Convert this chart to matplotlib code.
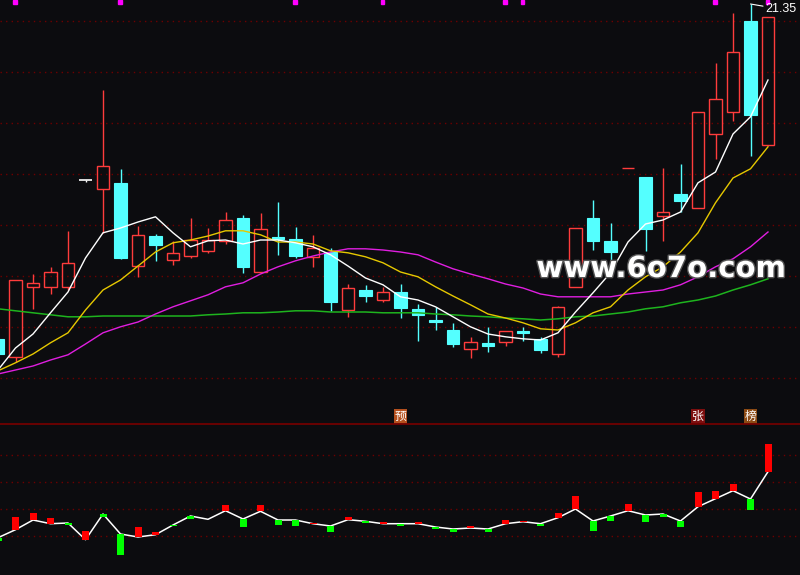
import matplotlib
matplotlib.use("Agg")
import matplotlib.pyplot as plt
import matplotlib.patheffects as pe
import matplotlib.transforms as mtransforms
from matplotlib.lines import Line2D
from matplotlib.patches import Rectangle
import numpy as np

# daily candles (price)
opens = [12.98, 12.53, 14.28, 14.28, 14.28, 16.94, 16.73, 16.88, 14.80, 15.55,
         14.95, 15.05, 15.18, 15.43, 16.00, 14.65, 15.53, 15.48, 15.03, 15.15,
         13.70, 14.20, 13.95, 14.15, 13.73, 13.45, 13.20, 12.73, 12.88, 12.90,
         13.18, 12.98, 12.60, 14.28, 16.00, 15.43, 17.24, 17.03, 16.05, 16.60,
         16.25, 18.10, 18.65, 20.93, 17.83]
highs = [12.98, 14.45, 14.60, 14.78, 15.68, 16.94, 19.20, 17.23, 15.80, 15.60,
         15.43, 16.00, 15.75, 16.15, 16.08, 16.13, 16.40, 15.78, 15.58, 15.25,
         14.35, 14.33, 14.28, 14.35, 13.85, 13.78, 13.38, 13.03, 13.28, 13.18,
         13.28, 13.03, 13.80, 15.75, 16.45, 15.88, 17.25, 17.03, 17.25, 17.35,
         18.65, 19.88, 21.13, 21.35, 21.03]
lows = [12.60, 12.40, 13.73, 14.10, 14.20, 16.91, 15.63, 14.98, 14.53, 14.93,
        14.83, 15.00, 15.13, 15.35, 14.63, 14.65, 15.08, 15.00, 14.78, 13.68,
        13.53, 13.90, 13.90, 13.50, 12.93, 13.20, 12.78, 12.50, 12.65, 12.80,
        12.93, 12.63, 12.53, 14.28, 15.20, 14.90, 17.24, 15.18, 15.43, 16.15,
        16.25, 17.48, 18.43, 17.55, 17.83]
closes = [12.60, 14.45, 14.38, 14.65, 14.88, 16.94, 17.30, 15.00, 15.58, 15.33,
          15.13, 15.45, 15.45, 15.95, 14.78, 15.73, 15.48, 15.05, 15.25, 13.90,
          14.25, 14.05, 14.15, 13.75, 13.58, 13.40, 12.85, 12.90, 12.80, 13.18,
          13.13, 12.70, 13.78, 15.75, 15.43, 15.15, 17.25, 15.73, 16.15, 16.43,
          18.65, 18.98, 20.15, 18.58, 21.03]

# moving averages
ma5 = [12.20, 12.75, 13.10, 13.63, 14.15, 15.00, 15.63, 15.75, 15.90, 16.03,
       15.63, 15.28, 15.43, 15.45, 15.35, 15.45, 15.45, 15.38, 15.28, 15.08,
       14.80, 14.50, 14.33, 14.03, 13.95, 13.78, 13.53, 13.28, 13.10, 13.03,
       12.98, 12.95, 13.13, 13.65, 14.13, 14.63, 15.40, 15.85, 15.95, 16.15,
       16.88, 17.15, 18.10, 18.53, 19.45]
ma10 = [12.18, 12.38, 12.60, 12.88, 13.13, 13.70, 14.20, 14.45, 14.80, 15.15,
        15.38, 15.45, 15.55, 15.68, 15.68, 15.58, 15.40, 15.40, 15.35, 15.18,
        15.13, 15.03, 14.88, 14.65, 14.53, 14.28, 14.05, 13.83, 13.60, 13.50,
        13.38, 13.23, 13.20, 13.38, 13.63, 13.78, 14.20, 14.53, 14.78, 15.15,
        15.63, 16.38, 17.00, 17.23, 17.78]
ma20 = [12.10, 12.20, 12.30, 12.45, 12.58, 12.85, 13.13, 13.28, 13.40, 13.60,
        13.78, 13.93, 14.08, 14.28, 14.38, 14.60, 14.78, 14.93, 15.05, 15.15,
        15.23, 15.23, 15.20, 15.15, 15.08, 14.90, 14.73, 14.60, 14.48, 14.35,
        14.25, 14.10, 14.03, 14.03, 14.03, 14.03, 14.10, 14.15, 14.20, 14.33,
        14.53, 14.78, 14.98, 15.28, 15.65]
ma60 = [13.73, 13.68, 13.63, 13.58, 13.53, 13.53, 13.55, 13.55, 13.55, 13.55,
        13.55, 13.55, 13.58, 13.60, 13.63, 13.63, 13.65, 13.68, 13.68, 13.65,
        13.65, 13.65, 13.63, 13.63, 13.63, 13.60, 13.58, 13.55, 13.53, 13.50,
        13.48, 13.45, 13.48, 13.53, 13.55, 13.60, 13.65, 13.73, 13.78, 13.88,
        13.95, 14.05, 14.20, 14.33, 14.48]

# lower indicator: smoothed line and raw value
ind_line = [3.73, 4.53, 5.50, 5.13, 5.20, 3.53, 6.10, 4.10, 3.80, 4.03,
            5.00, 5.90, 5.57, 6.43, 5.60, 6.37, 5.50, 5.50, 5.13, 4.90,
            5.53, 5.37, 5.13, 5.13, 5.13, 4.80, 4.60, 4.70, 4.60, 5.13,
            5.33, 5.13, 5.73, 6.60, 5.40, 5.90, 6.43, 6.00, 6.10, 5.40,
            6.83, 7.63, 8.43, 7.60, 10.33]
ind_value = [3.40, 5.80, 6.20, 5.70, 5.00, 4.40, 5.80, 2.03, 4.80, 4.30,
             4.90, 5.60, 5.57, 7.00, 4.80, 7.00, 5.03, 4.93, 5.20, 4.33,
             5.80, 5.23, 5.30, 4.93, 5.30, 4.60, 4.30, 4.90, 4.30, 5.50,
             5.40, 4.93, 6.20, 7.90, 4.43, 5.43, 7.10, 5.33, 5.83, 4.83,
             8.30, 8.40, 9.10, 6.53, 13.10]

mark_days = [1, 7, 17, 22, 29, 30, 41, 44]
tag_days = [23, 40, 43]
tag_text = ["预", "张", "榜"]
tag_colors = ["#b4501e", "#7d0f0f", "#8c4a14"]

BG = "#0c0c0f"
RED = "#ff3c3c"
CYAN = "#54ffff"
GRID = "#6e0000"

fig = plt.figure(figsize=(8, 5.75), dpi=100, facecolor=BG)
ax = fig.add_axes([0, 151 / 575, 1, 424 / 575], facecolor=BG)
ax2 = fig.add_axes([0, 0, 1, 151 / 575], facecolor=BG)

x = np.arange(len(opens))
W = 0.7

# candles
for i, (o, h, l, c) in enumerate(zip(opens, highs, lows, closes)):
    if c > o:
        ax.vlines(i, c, h, color=RED, lw=1, zorder=2)
        ax.vlines(i, l, o, color=RED, lw=1, zorder=2)
        ax.add_patch(Rectangle((i - W / 2, o), W, c - o, fill=False,
                               edgecolor=RED, lw=1, zorder=3))
    elif c < o:
        ax.vlines(i, l, h, color=CYAN, lw=1, zorder=2)
        ax.add_patch(Rectangle((i - W / 2, c), W, o - c, facecolor=CYAN,
                               edgecolor=CYAN, lw=0.8, zorder=3))
    else:
        ax.vlines(i, l, h, color="white", lw=1, zorder=2)
        ax.hlines(o, i - W / 2, i + W / 2, color="white", lw=1.2, zorder=3)

# moving averages
ax.plot(x, ma60, color="#1eb41e", lw=1.1, zorder=4)
ax.plot(x, ma20, color="#e01ee0", lw=1.0, zorder=4)
ax.plot(x, ma10, color="#e6c800", lw=1.0, zorder=4)
ax.plot(x, ma5, color="white", lw=1.0, zorder=5)

for g in 12.0 + 1.275 * np.arange(8):
    ax.axhline(g, color=GRID, lw=1, ls=(0, (1, 3)), zorder=0)

ax.set_xlim(2 / 17.5, 802 / 17.5)
ax.set_ylim(10.85, 21.45)
ax.axis("off")

# markers along the top
trans_top = mtransforms.blended_transform_factory(ax.transData, ax.transAxes)
for d in mark_days:
    ax.add_patch(Rectangle((d - 0.13, 0.9915), 0.2, 0.0085, color="#ff00ff",
                           transform=trans_top, zorder=6, clip_on=False))

# event tags
for d, s, col in zip(tag_days, tag_text, tag_colors):
    ax.text(d, 0.018, s, transform=trans_top, ha="center", va="center",
            fontsize=8.5, color="white", family=["Noto Sans CJK SC", "DejaVu Sans"],
            bbox=dict(boxstyle="square,pad=0.08", fc=col, ec="none"), zorder=7)

# highest price label
hi = int(np.argmax(highs))
ax.annotate(f"{highs[hi]:.2f}", xy=(hi, highs[hi]), xytext=(11, 0.5),
            textcoords="offset points", color="white", fontsize=9,
            family=["Liberation Sans", "DejaVu Sans"], va="top", ha="left",
            arrowprops=dict(arrowstyle="-", color="white", lw=0.8,
                            shrinkA=0, shrinkB=0), zorder=7)

# lower panel
ax2.plot(x, ind_line, color="white", lw=1.1, zorder=2)
for i, (l, v) in enumerate(zip(ind_line, ind_value)):
    if v == l:
        continue
    col = "#ff0000" if v > l else "#00ff00"
    ax2.bar(i, v - l, bottom=l, width=0.4, color=col, zorder=3)
for g in 3.9 + 2.7 * np.arange(4):
    ax2.axhline(g, color=GRID, lw=1, ls=(0, (1, 3)), zorder=0)
ax2.set_xlim(2 / 17.5, 802 / 17.5)
ax2.set_ylim(0, 15.1)
ax2.axis("off")

fig.add_artist(Line2D([0, 1], [151 / 575, 151 / 575], transform=fig.transFigure,
                      color="#700000", lw=1.3))

# watermark
fig.text(661 / 800, 1 - 277 / 575, "www.6o7o.com", ha="center", va="baseline",
         fontsize=21, fontweight="bold", color="white", family="DejaVu Sans",
         path_effects=[pe.withStroke(linewidth=2, foreground="#555555")])

fig.savefig("out.png", dpi=100, facecolor=BG)
